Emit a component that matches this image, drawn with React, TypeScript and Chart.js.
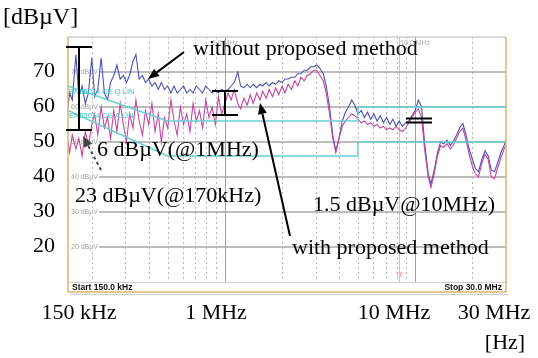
import React, { useEffect, useRef } from "react";
import { Chart, registerables } from "chart.js";
Chart.register(...registerables);

const W = 538;
const H = 358;

// Sweep frequencies (MHz)
const FREQ_MHZ = [
  0.150, 0.153, 0.158, 0.165, 0.171, 0.178, 0.185, 0.192, 0.200, 0.207,
  0.215, 0.224, 0.233, 0.242, 0.251, 0.261, 0.271, 0.282, 0.293, 0.304,
  0.316, 0.329, 0.341, 0.355, 0.369, 0.383, 0.398, 0.414, 0.430, 0.447,
  0.464, 0.482, 0.501, 0.521, 0.541, 0.562, 0.584, 0.607, 0.631, 0.656,
  0.681, 0.708, 0.736, 0.764, 0.794, 0.825, 0.858, 0.891, 0.926, 0.962,
  1.00, 1.04, 1.08, 1.12, 1.17, 1.21, 1.26, 1.31, 1.36, 1.41,
  1.47, 1.53, 1.58, 1.65, 1.71, 1.78, 1.85, 1.92, 2.00, 2.07,
  2.15, 2.24, 2.33, 2.42, 2.51, 2.61, 2.71, 2.82, 2.93, 3.04,
  3.16, 3.29, 3.41, 3.55, 3.69, 3.83, 3.98, 4.14, 4.30, 4.47,
  4.64, 4.82, 5.01, 5.21, 5.41, 5.62, 5.84, 6.07, 6.31, 6.56,
  6.81, 7.08, 7.36, 7.64, 7.94, 8.25, 8.58, 8.91, 9.26, 9.62,
  10.0, 10.4, 10.8, 11.2, 11.7, 12.1, 12.6, 13.1, 13.6, 14.1,
  14.7, 15.3, 15.8, 16.5, 17.1, 17.8, 18.5, 19.2, 20.0, 20.7,
  21.5, 22.4, 23.3, 24.2, 25.1, 26.1, 27.1, 28.2, 29.3, 30.0,
];

// Trace without proposed method (dBµV)
const WITHOUT_DBUV = [
  60, 64, 62, 75, 63, 66, 61, 64, 74, 63,
  65, 74, 64, 62, 67, 69, 72, 68, 69, 67,
  69, 73, 75, 68, 69, 67, 68, 66, 67, 65,
  67, 65, 66, 64, 66, 64, 65, 66, 64, 65,
  64, 66, 65, 64, 66, 65, 64, 65, 64, 65,
  64.5, 65, 66, 67, 70, 66, 65.5, 66.5, 65.5, 66.5,
  65.5, 66.5, 66, 67, 66, 67, 66.5, 67.5, 67, 68,
  68, 68.5, 68.5, 69.5, 69.5, 70.5, 70.5, 71.5, 71.5, 72,
  71, 69.5, 66, 60, 52, 47.5, 51, 56, 58.5, 60,
  62, 60.5, 58, 59, 57, 58.5, 56.5, 58, 56, 57.5,
  55.5, 57, 55, 56.5, 54.5, 56, 54.5, 55.5, 56, 57.5,
  59, 62, 60, 50, 41, 38, 42, 47, 50, 49.5,
  50.5, 49, 50, 52, 54, 55.3, 52, 48, 45, 42.5,
  41.5, 45, 47.5, 46, 42, 41.5, 44, 47, 49, 50.5,
];

// Trace with proposed method (dBµV)
const WITH_DBUV = [
  50, 47, 52, 48, 51, 46, 53, 49, 55, 58,
  52, 60, 54, 57, 51, 59, 53, 61, 55, 50,
  58, 54, 62, 56, 52, 59, 55, 61, 53, 58,
  50, 57, 54, 62, 56, 52, 60, 55, 58, 53,
  61, 56, 59, 54, 62, 57, 60, 55, 63, 58,
  61, 64, 62, 65, 61, 59.5, 62.5, 60.5, 63.5, 61,
  64, 62, 64.5, 62.5, 65, 63, 65.5, 63.5, 66, 64,
  66.5, 65, 67.5, 66, 68.5, 67.5, 69, 69.5, 70.5, 70.5,
  69, 67.5, 64, 58, 51, 47, 51, 54.5, 56, 57,
  58, 57.5, 56.5, 55.5, 56, 55, 55.5, 54.5, 55, 54,
  54.5, 53.5, 54, 53.5, 54.5, 53.5, 53, 54, 55.5, 57,
  58.5, 59.5, 57, 48, 40, 37, 41, 46, 49, 48.5,
  49.5, 48, 49, 51, 53, 54, 50.5, 46.5, 43, 41,
  40, 44, 46.5, 45, 40, 39.5, 42.5, 45.5, 48, 49,
];

// EN55014 limit lines
const QP_LIMIT_F = [0.15, 0.5, 5, 5, 30];
const QP_LIMIT_DB = [66, 56, 56, 60, 60];
const AV_LIMIT_F = [0.15, 0.5, 5, 5, 30];
const AV_LIMIT_DB = [59, 46, 46, 50, 50];

const Y_TICKS = [20, 30, 40, 50, 60, 70];
const X_LABELS = ["150 kHz", "1 MHz", "10 MHz", "30 MHz"];
const MINOR_GRID_F = [0.2, 0.3, 0.4, 0.5, 0.6, 0.7, 0.8, 0.9, 2, 3, 4, 5, 6, 7, 8, 9, 20];
const MAJOR_GRID_F = [1, 10];
const TF_F = 8.2;

const SERIF = "'Liberation Serif', 'Times New Roman', serif";
const SANS = "'Liberation Sans', Arial, sans-serif";

function line(ctx: CanvasRenderingContext2D, x1: number, y1: number, x2: number, y2: number) {
  ctx.beginPath();
  ctx.moveTo(x1, y1);
  ctx.lineTo(x2, y2);
  ctx.stroke();
}

function arrow(ctx: CanvasRenderingContext2D, x1: number, y1: number, x2: number, y2: number, color: string, width: number, dash: number[] = []) {
  const ang = Math.atan2(y2 - y1, x2 - x1);
  const hl = 11, hw = 4.5;
  const bx = x2 - hl * Math.cos(ang);
  const by = y2 - hl * Math.sin(ang);
  ctx.save();
  ctx.strokeStyle = color;
  ctx.fillStyle = color;
  ctx.lineWidth = width;
  ctx.setLineDash(dash);
  line(ctx, x1, y1, bx, by);
  ctx.setLineDash([]);
  ctx.beginPath();
  ctx.moveTo(x2, y2);
  ctx.lineTo(bx + hw * Math.sin(ang), by - hw * Math.cos(ang));
  ctx.lineTo(bx - hw * Math.sin(ang), by + hw * Math.cos(ang));
  ctx.closePath();
  ctx.fill();
  ctx.restore();
}

const decorPlugin = {
  id: "decor",
  beforeDraw(chart: any) {
    const ctx = chart.ctx as CanvasRenderingContext2D;
    ctx.save();
    ctx.fillStyle = "#fff";
    ctx.fillRect(0, 0, W, H);
    ctx.restore();
  },
  beforeDatasetsDraw(chart: any) {
    const ctx = chart.ctx as CanvasRenderingContext2D;
    const a = chart.chartArea;
    const xs = chart.scales.x;
    const ys = chart.scales.y;
    ctx.save();
    // minor vertical dashed grid
    ctx.strokeStyle = "#b8b8b8";
    ctx.lineWidth = 1;
    ctx.setLineDash([2, 3]);
    MINOR_GRID_F.forEach((f) => {
      const x = Math.round(xs.getPixelForValue(f)) + 0.5;
      line(ctx, x, a.top, x, a.bottom);
    });
    ctx.setLineDash([]);
    ctx.strokeStyle = "#a0a0a0";
    MAJOR_GRID_F.forEach((f) => {
      const x = Math.round(xs.getPixelForValue(f)) + 0.5;
      line(ctx, x, a.top, x, a.bottom);
    });
    // TF marker
    ctx.strokeStyle = "#f2b4a6";
    const tx = Math.round(xs.getPixelForValue(TF_F)) + 0.5;
    line(ctx, tx, a.top, tx, a.bottom);
    ctx.fillStyle = "#f0a090";
    ctx.font = `7px ${SANS}`;
    ctx.textAlign = "center";
    ctx.textBaseline = "middle";
    ctx.fillText("TF", tx, a.bottom - 7);
    // horizontal grid
    ctx.strokeStyle = "#a8a8a8";
    ctx.lineWidth = 1.6;
    ctx.font = `7px ${SANS}`;
    ctx.textAlign = "left";
    Y_TICKS.forEach((v) => {
      const y = ys.getPixelForValue(v);
      line(ctx, a.left, y, a.right, y);
      const t = `${v} dBµV`;
      const w = ctx.measureText(t).width;
      ctx.fillStyle = "#fff";
      ctx.fillRect(a.left + 1, y - 4, w + 3, 8);
      ctx.fillStyle = "#a0a0a0";
      ctx.fillText(t, a.left + 3, y);
    });
    // tiny frequency labels at top
    ctx.fillStyle = "#b0b0b0";
    ctx.textAlign = "center";
    ctx.fillText("1.0 MHz", xs.getPixelForValue(1), a.top + 6);
    ctx.fillText("10.0 MHz", xs.getPixelForValue(10), a.top + 6);
    ctx.restore();
  },
  afterDatasetsDraw(chart: any) {
    const ctx = chart.ctx as CanvasRenderingContext2D;
    const a = chart.chartArea;
    const ys = chart.scales.y;
    ctx.save();
    // limit labels
    ctx.fillStyle = "#3cc0c8";
    ctx.font = `7.5px ${SANS}`;
    ctx.textAlign = "left";
    ctx.textBaseline = "middle";
    ctx.fillText("EN55014 CE Q.LIN", a.left + 1, 92);
    ctx.fillText("EN55014 CE A.LIN", a.left + 1, 116);

    // footer
    const fb = a.bottom + 10;
    ctx.strokeStyle = "#d0d0d0";
    ctx.lineWidth = 1;
    line(ctx, a.left, a.bottom + 0.5, a.right, a.bottom + 0.5);
    ctx.fillStyle = "#111";
    ctx.font = `bold 8.5px ${SANS}`;
    ctx.textBaseline = "middle";
    ctx.textAlign = "left";
    ctx.fillText("Start 150.0 kHz", a.left + 4, a.bottom + 5.5);
    ctx.textAlign = "right";
    ctx.fillText("Stop 30.0 MHz", a.right - 4, a.bottom + 5.5);

    // frame
    ctx.lineWidth = 1.5;
    ctx.strokeStyle = "#cfcfcf";
    line(ctx, a.left, a.top, a.right, a.top);
    ctx.strokeStyle = "#d8b56c";
    line(ctx, a.left, a.top, a.left, fb);
    line(ctx, a.right, a.top, a.right, fb);
    line(ctx, a.left, fb, a.right, fb);
    ctx.strokeStyle = "#cccccc";
    ctx.lineWidth = 1;
    line(ctx, a.left + 2, fb + 2.5, a.right + 2, fb + 2.5);

    // measurement bars
    ctx.strokeStyle = "#000";
    ctx.lineWidth = 2;
    line(ctx, 79, 47, 79, 130);
    line(ctx, 66, 47, 92, 47);
    line(ctx, 66, 130, 92, 130);
    line(ctx, 225, 91, 225, 115);
    line(ctx, 212, 91, 238, 91);
    line(ctx, 212, 115, 238, 115);
    line(ctx, 406, 118.5, 432, 118.5);
    line(ctx, 406, 122.5, 432, 122.5);

    // arrows
    arrow(ctx, 184, 52, 148, 79, "#000", 2);
    arrow(ctx, 290, 236, 260, 103, "#000", 2);
    arrow(ctx, 101, 170, 83, 136, "#444", 2, [3, 3]);

    // annotations
    ctx.fillStyle = "#000";
    ctx.font = `22px ${SERIF}`;
    ctx.textBaseline = "middle";
    ctx.textAlign = "left";
    ctx.fillText("without proposed method", 193, 49);
    ctx.fillText("6 dBµV(@1MHz)", 97, 150);
    ctx.fillText("23 dBµV(@170kHz)", 75, 196);
    ctx.fillText("1.5 dBµV@10MHz)", 313, 205);
    ctx.fillText("with proposed method", 292, 248);

    // outer axes labels
    ctx.textAlign = "right";
    Y_TICKS.forEach((v) => {
      ctx.fillText(String(v), 55, ys.getPixelForValue(v) - 1);
    });
    const xCenters = [79, 216, 394, 494];
    ctx.textAlign = "center";
    X_LABELS.forEach((t, i) => ctx.fillText(t, xCenters[i], 313));
    ctx.fillText("[Hz]", 505, 343);
    ctx.textAlign = "left";
    ctx.font = `24px ${SERIF}`;
    ctx.fillText("[dBµV]", 3, 18);
    ctx.restore();
  },
};

export default function App() {
  const ref = useRef<HTMLCanvasElement>(null);
  useEffect(() => {
    const canvas = ref.current!;
    const toXY = (fs: number[], vs: number[]) => fs.map((f, i) => ({ x: f, y: vs[i] }));
    const chart = new Chart(canvas, {
      type: "line",
      data: {
        datasets: [
          { data: toXY(QP_LIMIT_F, QP_LIMIT_DB), borderColor: "#66cfd8", borderWidth: 1.4, pointRadius: 0 },
          { data: toXY(AV_LIMIT_F, AV_LIMIT_DB), borderColor: "#66cfd8", borderWidth: 1.4, pointRadius: 0 },
          { data: toXY(FREQ_MHZ, WITH_DBUV), borderColor: "#c4469f", borderWidth: 1.1, pointRadius: 0 },
          { data: toXY(FREQ_MHZ, WITHOUT_DBUV), borderColor: "#4a52b4", borderWidth: 1.1, pointRadius: 0 },
        ],
      },
      options: {
        animation: false,
        responsive: false,
        events: [],
        layout: { padding: { top: 37, right: 32, left: 0, bottom: 0 } },
        plugins: { legend: { display: false }, tooltip: { enabled: false } },
        scales: {
          x: {
            type: "logarithmic",
            min: 0.15,
            max: 30,
            grid: { display: false },
            border: { display: false },
            ticks: { display: false },
            afterFit: (s: any) => { s.height = 76; },
          },
          y: {
            min: 10,
            max: 80,
            grid: { display: false },
            border: { display: false },
            ticks: { display: false },
            afterFit: (s: any) => { s.width = 68; },
          },
        },
      },
      plugins: [decorPlugin],
    } as any);
    return () => chart.destroy();
  }, []);
  return (
    <div style={{ position: "absolute", left: 0, top: 0, width: W, height: H, background: "#fff" }}>
      <canvas ref={ref} width={W} height={H} style={{ width: W, height: H, display: "block" }} />
    </div>
  );
}
